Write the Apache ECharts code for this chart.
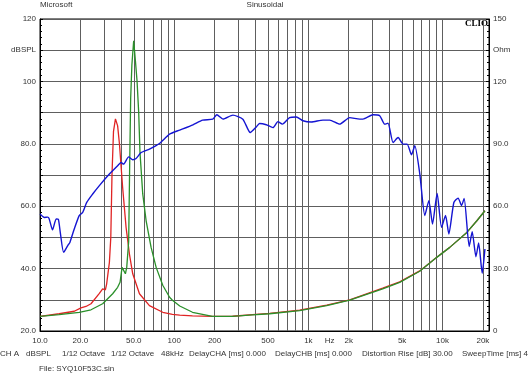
<!DOCTYPE html>
<html><head><meta charset="utf-8">
<script src="https://cdn.jsdelivr.net/npm/echarts@6/dist/echarts.min.js"></script>
<style>html,body{margin:0;padding:0;background:#fff}#c{width:530px;height:373px}</style>
</head><body><div id="c"></div>
<script>
// ---- data ----
const blueFreq = [10,10.8,11.4,11.7,12.4,13.2,13.7,14.2,15.0,16.1,16.7,18.0,19.6,20.8,22.3,24.7,27.7,32.9,37.9,40.2,41.9,45.8,49.1,52.0,56.7,65.4,77.7,92.4,110,138,163,194,208,231,274,325,369,409,433,486,545,593,640,725,813,912,1052,1285,1442,1713,2033,2415,2553,3033,3404,3709,3926,4279,4665,5085,5447,5873,6214,6771,7380,7908,8420,9117,9834,10530,11143,12145,13070,13860,14490,15800,16640,17740,18580,19760,20700];
const blueSpl  = [57.5,56.4,56.5,56.0,52.4,55.9,55.8,51.2,45.2,47.4,48.4,52.7,57.0,58.0,61.2,63.9,66.6,70.3,73.0,74.0,73.5,75.8,74.9,75.3,77.2,78.3,80.1,83.1,84.4,86.1,87.6,87.9,89.3,87.9,89.2,87.9,83.6,85.4,86.5,86.1,85.2,87.1,86.3,88.4,88.6,87.4,87.0,87.6,87.6,86.3,88.4,87.9,87.9,89.3,89.0,86.3,86.6,80.4,82.0,79.9,79.9,76.5,79.4,70.3,57.0,61.8,54.3,64.1,53.2,57.0,51.1,61.2,62.6,60.2,62.5,47.1,51.8,43.8,48.2,38.5,46.3];

const redFreq = [10,13.9,18.0,20.2,22.0,24.0,27.7,29.3,30.7,31.4,32.9,33.7,34.4,35.3,36.5,37.9,39.1,41.3,43.8,46.4,49.1,55.1,65.4,82.2,97,110,137,193,272,384,514,861,1370,2033,3582,4795,6760,9060,11320,15180,18030,20700];
const redOhm  = [7.0,8.3,9.5,11.1,11.8,13.1,18.1,20.3,19.8,22.7,33.0,45.0,75.0,96.0,102.0,98.6,89.9,69.0,49.8,37.0,27.5,17.9,12.2,9.0,8.0,7.6,7.3,7.0,7.1,7.9,8.5,10.0,12.4,15.0,20.6,23.6,28.9,35.5,40.2,47.4,53.0,57.8];

const greenFreq = [10,13.9,19.6,24.0,29.3,34.8,37.9,39.5,40.9,41.9,43.3,44.3,45.8,46.6,47.4,48.4,49.9,51.4,52.9,54.4,55.6,58.3,61.8,67.3,73.4,82.2,92.4,97.1,110,137,193,272,384,514,861,1370,2033,3582,4795,6760,9060,11320,15180,18030,20700];
const greenOhm  = [7.0,7.9,9.0,10.2,13.1,17.9,21.0,23.4,30.6,31.1,27.5,30.6,43.0,80.0,112.0,128.0,139.5,130.0,120.0,105.0,86.0,65.9,53.0,40.2,30.6,22.0,16.2,14.8,12.0,9.0,7.0,7.0,7.8,8.3,9.8,12.2,14.8,20.3,23.4,28.7,35.4,40.2,47.4,53.0,57.8];

const xGridFreqs = [10,20,30,40,50,60,70,80,90,100,200,300,400,500,600,700,800,900,1000,2000,3000,4000,5000,6000,7000,8000,9000,10000,20000];
const xLabelFreqs = [10,20,50,100,200,500,1000,1440,2000,5000,10000,20000];
const xLabelTexts = ['10.0','20.0','50.0','100','200','500','1k','Hz','2k','5k','10k','20k'];
const leftTickValues = [20,30,40,50,60,70,80,90,100,110,120];
const leftTickLabels = ['20.0','','40.0','','60.0','','80.0','','100','dBSPL','120'];
const rightTickValues = [0,15,30,45,60,75,90,105,120,135,150];
const rightTickLabels = ['0','','30.0','','60.0','','90.0','','120','Ohm','150'];
const freqMin = 10, freqMax = 22200;

// ---- chart ----
const FONT = 'Liberation Sans, Arial, sans-serif';
const TXT = '#333';
const GRID = '#5e5e5e';
const pairs = (xs, ys) => xs.map((x, i) => [x, ys[i]]);
const lg = Math.log10;
const lookup = (vals, labels, v) => {
  for (let i = 0; i < vals.length; i++) if (Math.abs(vals[i] - v) < 1e-6) return labels[i];
  return '';
};

const chart = echarts.init(document.getElementById('c'), null, {renderer: 'canvas'});
chart.setOption({
  animation: false,
  backgroundColor: '#fff',
  grid: {left: 40, right: 41, top: 19, bottom: 42, show: true, borderColor: '#000', borderWidth: 1, backgroundColor: 'transparent'},
  xAxis: [
    {type: 'log', logBase: 10, min: freqMin, max: freqMax, show: false},
    {
      type: 'value', min: lg(freqMin), max: lg(freqMax), position: 'bottom',
      axisLine: {show: true, lineStyle: {color: '#000', width: 1}},
      axisTick: {show: false, customValues: xGridFreqs.map(lg)},
      splitLine: {show: true, lineStyle: {color: GRID, width: 1}},
      axisLabel: {
        customValues: xLabelFreqs.map(lg), margin: 6,
        fontFamily: FONT, fontSize: 8, color: TXT,
        formatter: v => lookup(xLabelFreqs.map(lg), xLabelTexts, v)
      }
    }
  ],
  yAxis: [
    {
      type: 'value', min: 20, max: 120, interval: 10, position: 'left',
      axisLine: {show: true, lineStyle: {color: '#000'}},
      axisTick: {show: true, inside: true, length: 3, lineStyle: {color: '#000'}},
      minorTick: {show: true, splitNumber: 5, length: 2, lineStyle: {color: '#000'}},
      splitLine: {show: true, lineStyle: {color: GRID, width: 1}},
      axisLabel: {margin: 4, fontFamily: FONT, fontSize: 8, color: TXT,
        formatter: v => lookup(leftTickValues, leftTickLabels, v)}
    },
    {
      type: 'value', min: 0, max: 150, interval: 15, position: 'right',
      axisLine: {show: true, lineStyle: {color: '#000'}},
      axisTick: {show: true, inside: true, length: 3, lineStyle: {color: '#000'}},
      minorTick: {show: true, splitNumber: 5, length: 2, lineStyle: {color: '#000'}},
      splitLine: {show: false},
      axisLabel: {margin: 4, fontFamily: FONT, fontSize: 8, color: TXT,
        formatter: v => lookup(rightTickValues, rightTickLabels, v)}
    }
  ],
  series: [
    {type: 'line', xAxisIndex: 0, yAxisIndex: 1, data: pairs(redFreq, redOhm), showSymbol: false,
      lineStyle: {color: '#e02424', width: 1.3}, itemStyle: {color: '#e02424'}, z: 3},
    {type: 'line', xAxisIndex: 0, yAxisIndex: 1, data: pairs(greenFreq, greenOhm), showSymbol: false,
      lineStyle: {color: '#2a902a', width: 1.3}, itemStyle: {color: '#2a902a'}, z: 4},
    {type: 'line', xAxisIndex: 0, yAxisIndex: 0, data: pairs(blueFreq, blueSpl), showSymbol: false,
      smooth: 0.2,
      lineStyle: {color: '#1414d2', width: 1.4}, itemStyle: {color: '#1414d2'}, z: 5}
  ],
  graphic: [
    {type: 'text', left: 40, top: 1, style: {text: 'Microsoft', font: '8px ' + FONT, fill: TXT}},
    {type: 'text', left: 'center', top: 1, style: {text: 'Sinusoidal', font: '8px ' + FONT, fill: TXT}},
    {type: 'text', right: 42, top: 19, style: {text: 'CLIO', font: 'bold 9px Liberation Serif, serif', fill: '#000'}},
    {type: 'text', left: 0, top: 350, style: {text: 'CH A', font: '8px ' + FONT, fill: TXT}},
    {type: 'text', left: 26, top: 350, style: {text: 'dBSPL', font: '8px ' + FONT, fill: TXT}},
    {type: 'text', left: 62, top: 350, style: {text: '1/12 Octave', font: '8px ' + FONT, fill: TXT}},
    {type: 'text', left: 111, top: 350, style: {text: '1/12 Octave', font: '8px ' + FONT, fill: TXT}},
    {type: 'text', left: 161, top: 350, style: {text: '48kHz', font: '8px ' + FONT, fill: TXT}},
    {type: 'text', left: 189, top: 350, style: {text: 'DelayCHA [ms] 0.000', font: '8px ' + FONT, fill: TXT}},
    {type: 'text', left: 275, top: 350, style: {text: 'DelayCHB [ms] 0.000', font: '8px ' + FONT, fill: TXT}},
    {type: 'text', left: 362, top: 350, style: {text: 'Distortion Rise [dB] 30.00', font: '8px ' + FONT, fill: TXT}},
    {type: 'text', left: 462, top: 350, style: {text: 'SweepTime [ms] 4', font: '8px ' + FONT, fill: TXT}},
    {type: 'text', left: 39, top: 365, style: {text: 'File: SYQ10F53C.sin', font: '8px ' + FONT, fill: TXT}}
  ]
});
</script>
</body></html>
